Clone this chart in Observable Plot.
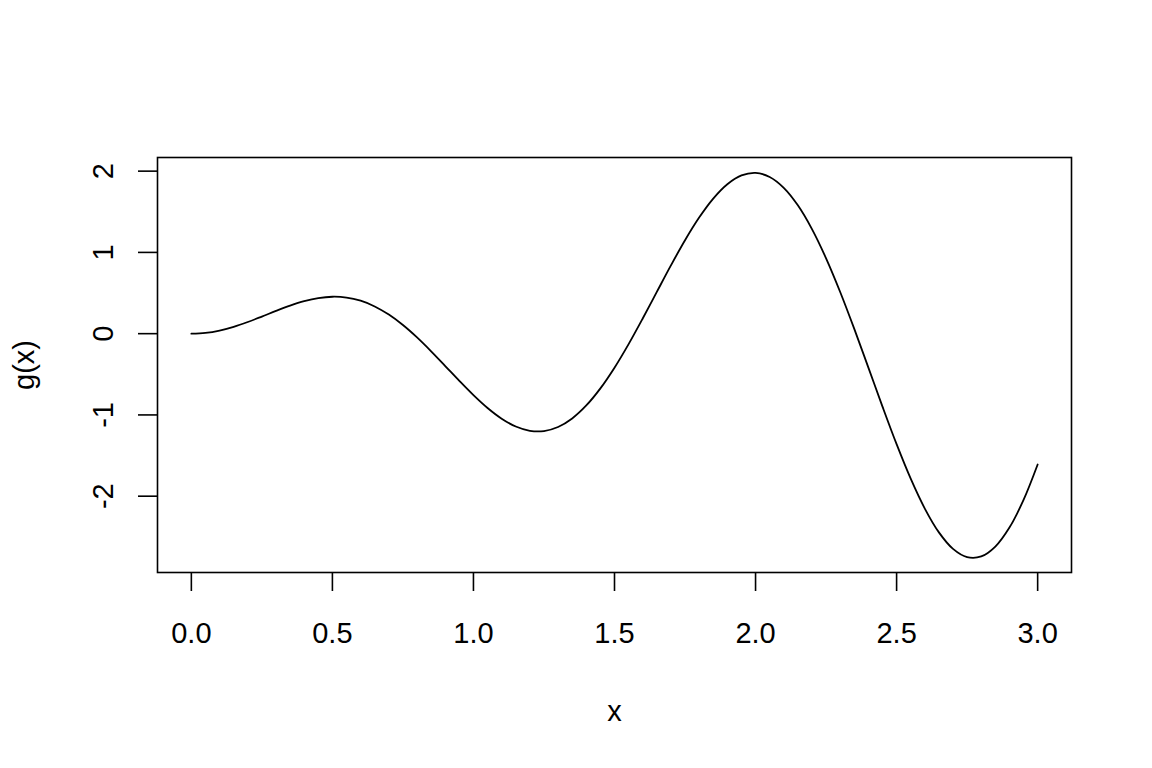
<!DOCTYPE html>
<html>
<head>
<meta charset="utf-8">
<script src="https://cdn.jsdelivr.net/npm/d3@7"></script>
<script src="https://cdn.jsdelivr.net/npm/@observablehq/plot@0.6"></script>
<style>
  html, body { margin: 0; padding: 0; background: #fff; }
  svg { display: block; }
</style>
</head>
<body>
<div id="chart"></div>
<script>
const xs = [0,0.05,0.1,0.15,0.2,0.25,0.3,0.35,0.4,0.45,0.5,0.55,0.6,0.65,0.7,0.75,0.8,0.85,0.9,0.95,
  1,1.05,1.1,1.15,1.2,1.25,1.3,1.35,1.4,1.45,1.5,1.55,1.6,1.65,1.7,1.75,1.8,1.85,1.9,1.95,
  2,2.05,2.1,2.15,2.2,2.25,2.3,2.35,2.4,2.45,2.5,2.55,2.6,2.65,2.7,2.75,2.8,2.85,2.9,2.95,3];
const gs = [0,0.0099,0.0389,0.0847,0.1435,0.2104,0.2796,0.3449,0.3998,0.4382,0.4546,0.4447,0.4053,0.3351,0.2345,0.1058,-0.0467,-0.2172,-0.3983,-0.5813,
  -0.7568,-0.9152,-1.0468,-1.1428,-1.1954,-1.1986,-1.1486,-1.0433,-0.8838,-0.6737,-0.4191,-0.1288,0.1864,0.5140,0.8400,1.1498,1.4287,1.6626,1.8390,1.9471,
  1.9788,1.9284,1.7947,1.5790,1.2868,0.9272,0.5127,0.0583,-0.4183,-0.8979,-1.3600,-1.7847,-2.1523,-2.4454,-2.6484,-2.7500,-2.7418,-2.6200,-2.3861,-2.0458,-1.6098];
const xTicks = [0, 0.5, 1, 1.5, 2, 2.5, 3];
const yTicks = [-2, -1, 0, 1, 2];
const xLabel = "x";
const yLabel = "g(x)";

const data = xs.map((x, i) => ({x, g: gs[i]}));
const xExt = d3.extent(xs), yExt = d3.extent(gs);
const px = (xExt[1] - xExt[0]) * 0.04, py = (yExt[1] - yExt[0]) * 0.04;
const font = "Liberation Sans, Arial, Helvetica, sans-serif";
const fs = 29;

const chart = Plot.plot({
  width: 1152,
  height: 768,
  marginLeft: 157,
  marginRight: 81,
  marginTop: 157,
  marginBottom: 196,
  style: {fontFamily: font, fontSize: fs + "px", color: "#000", background: "#fff"},
  x: {domain: [xExt[0] - px, xExt[1] + px]},
  y: {domain: [yExt[0] - py, yExt[1] + py]},
  marks: [
    Plot.frame({stroke: "#000", strokeWidth: 1.6}),
    Plot.axisX({ticks: xTicks, tickSize: 19, tickFormat: () => "", stroke: "#000", strokeWidth: 1.6, label: null}),
    Plot.axisY({ticks: yTicks, tickSize: 19, tickFormat: () => "", stroke: "#000", strokeWidth: 1.6, label: null}),
    Plot.text(xTicks, {x: d => d, text: d => d.toFixed(1), frameAnchor: "bottom", dy: 70, lineAnchor: "bottom", fontSize: fs, fill: "#000"}),
    Plot.text(yTicks, {y: d => d, text: d => String(d), frameAnchor: "left", dx: -45, rotate: -90, textAnchor: "middle", lineAnchor: "bottom", fontSize: fs, fill: "#000"}),
    Plot.text([xLabel], {text: d => d, frameAnchor: "bottom", dy: 148, lineAnchor: "bottom", fontSize: fs, fill: "#000"}),
    Plot.text([yLabel], {text: d => d, frameAnchor: "left", dx: -124, rotate: -90, textAnchor: "middle", lineAnchor: "bottom", fontSize: fs, fill: "#000"}),
    Plot.line(data, {x: "x", y: "g", stroke: "#000", strokeWidth: 1.8, curve: "catmull-rom"})
  ]
});
document.getElementById("chart").appendChild(chart);
</script>
</body>
</html>
